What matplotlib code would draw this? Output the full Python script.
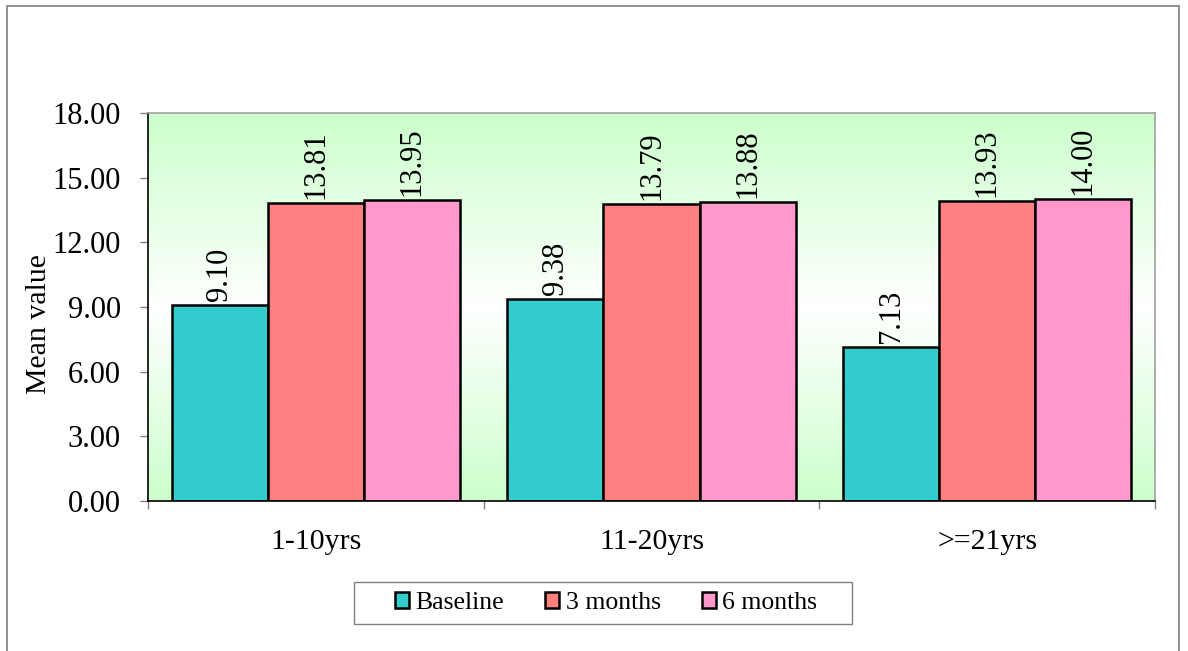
import matplotlib
matplotlib.use("Agg")
import matplotlib.pyplot as plt
import numpy as np
from matplotlib.patches import Rectangle

categories = ["1-10yrs", "11-20yrs", ">=21yrs"]
series_names = ["Baseline", "3 months", "6 months"]
baseline = [9.10, 9.38, 7.13]
months3 = [13.81, 13.79, 13.93]
months6 = [13.95, 13.88, 14.00]
yticks = [0, 3, 6, 9, 12, 15, 18]

colors = ["#33CCCC", "#FF8080", "#FF99CC"]

plt.rcParams['font.family'] = ['Liberation Serif', 'DejaVu Serif']

W, H = 1188, 651
fig = plt.figure(figsize=(W / 100, H / 100), dpi=100)
ax = fig.add_axes([148 / W, 1 - 501 / H, 1007 / W, 388 / H])

# gradient background: green - white - green
n = 256
t = np.linspace(0, 1, n)
w = np.abs(t - 0.5) * 2  # 1 at edges, 0 in middle
green = np.array([204, 255, 204]) / 255.0
white = np.array([1.0, 1.0, 1.0])
grad = (white[None, :] * (1 - w[:, None]) + green[None, :] * w[:, None])
grad = grad[:, None, :]
ax.imshow(grad, extent=[-0.5, 2.5, 0, 18], aspect='auto', zorder=0, origin='lower')

x = np.arange(len(categories))
bw = 0.286
handles = []
for i, (vals, name) in enumerate(zip([baseline, months3, months6], series_names)):
    pos = x + (i - 1) * bw
    bars = ax.bar(pos, vals, width=bw, color=colors[i], edgecolor='black',
                  linewidth=1.8, label=name, zorder=2)
    handles.append(bars)
    for xp, v in zip(pos, vals):
        ax.annotate(f"{v:.2f}", (xp, v), xytext=(0, 3), textcoords='offset points',
                    rotation=90, ha='center', va='bottom', fontsize=22, zorder=3)

ax.set_xlim(-0.5, 2.5)
ax.set_ylim(0, 18)
ax.set_yticks(yticks)
ax.set_yticklabels([f"{v:.2f}" for v in yticks], fontsize=22)
ax.set_xticks(x)
ax.set_xticklabels(categories, fontsize=21.5)
ax.set_xticks([-0.5, 0.5, 1.5, 2.5], minor=True)
ax.tick_params(axis='x', which='major', length=0, pad=20)
ax.tick_params(axis='x', which='minor', length=6, width=1, color='#808080', direction='out')
ax.tick_params(axis='y', which='major', length=6, width=1, color='#808080', direction='out', pad=13.5)

for s in ['top', 'right']:
    ax.spines[s].set_color('#a0a0a0')
    ax.spines[s].set_linewidth(1.2)
for s in ['left', 'bottom']:
    ax.spines[s].set_color('black')
    ax.spines[s].set_linewidth(1.2)

fig.text(39 / W, 1 - 324 / H, "Mean value", rotation=90, ha='center', va='center', fontsize=21.5)

leg = fig.legend(handles=handles, labels=series_names, loc='center',
                 bbox_to_anchor=(606 / W, 1 - 603 / H), ncol=3,
                 fontsize=18.5, frameon=False,
                 handlelength=0.55, handleheight=0.55, handletextpad=0.25,
                 columnspacing=1.6, borderpad=0.0)

fig.patches.append(Rectangle((354 / W, 1 - 624 / H), 498 / W, 42 / H, transform=fig.transFigure,
                             fill=False, edgecolor='#808080', linewidth=1.0))

fig.patches.append(Rectangle((7 / W, -0.1), 1172 / W, 1.1 - 6 / H, transform=fig.transFigure,
                             fill=False, edgecolor='#808080', linewidth=1.2))

fig.savefig("out.png", dpi=100)
